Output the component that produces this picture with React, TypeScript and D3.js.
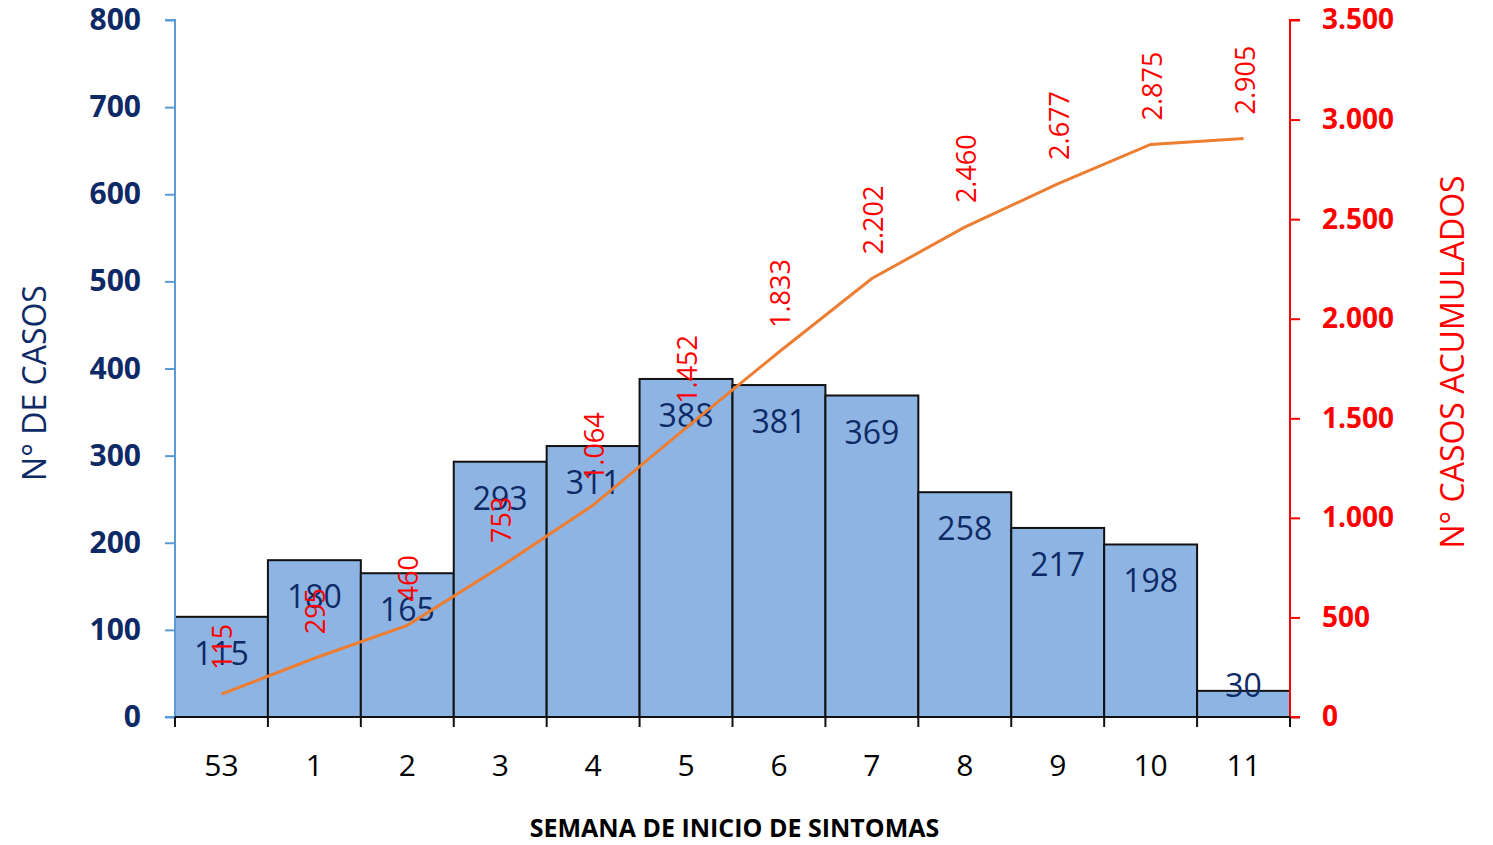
import React, { useRef, useEffect } from "react";
import * as d3 from "d3";

const weeks = ["53", "1", "2", "3", "4", "5", "6", "7", "8", "9", "10", "11"];
const cases = [115, 180, 165, 293, 311, 388, 381, 369, 258, 217, 198, 30];
const cumulative = [115, 295, 460, 753, 1064, 1452, 1833, 2202, 2460, 2677, 2875, 2905];
const leftTicks = [0, 100, 200, 300, 400, 500, 600, 700, 800];
const rightTicks = [0, 500, 1000, 1500, 2000, 2500, 3000, 3500];

const W = 1493;
const H = 845;
const FONT = "'Open Sans', 'Noto Sans', sans-serif";

// thousands with a dot, as in the original
const fmt = (d: number) => d3.format(",")(d).replace(/,/g, ".");

export default function App() {
  const svgRef = useRef<SVGSVGElement | null>(null);

  useEffect(() => {
    const svg = d3.select(svgRef.current);
    svg.selectAll("*").remove();

    const left = 175;
    const right = 1290;
    const top = 20;
    const bottom = 717;

    const x = d3.scaleBand().domain(weeks).range([left, right]).padding(0);
    const yL = d3.scaleLinear().domain([0, 800]).range([bottom, top]);
    const yR = d3.scaleLinear().domain([0, 3500]).range([bottom, top]);

    // bars
    svg
      .append("g")
      .selectAll("rect")
      .data(cases)
      .join("rect")
      .attr("x", (_, i) => x(weeks[i])!)
      .attr("y", (d) => yL(d))
      .attr("width", x.bandwidth())
      .attr("height", (d) => bottom - yL(d))
      .attr("fill", "#8DB4E2")
      .attr("stroke", "#111")
      .attr("stroke-width", 2);

    // bar labels (inside end, pushed up when the bar is too short)
    svg
      .append("g")
      .selectAll("text")
      .data(cases)
      .join("text")
      .attr("x", (_, i) => x(weeks[i])! + x.bandwidth() / 2)
      .attr("y", (d) => Math.min(yL(d) + 48, bottom - 20))
      .attr("text-anchor", "middle")
      .style("font-family", FONT)
      .style("font-size", "32px")
      .attr("fill", "#0E2A66")
      .text((d) => d);

    // cumulative line
    const line = d3
      .line<number>()
      .x((_, i) => x(weeks[i])! + x.bandwidth() / 2)
      .y((d) => yR(d));
    svg
      .append("path")
      .datum(cumulative)
      .attr("fill", "none")
      .attr("stroke", "#ED7D31")
      .attr("stroke-width", 3)
      .attr("d", line);

    // cumulative labels (rotated)
    svg
      .append("g")
      .selectAll("text")
      .data(cumulative)
      .join("text")
      .attr("transform", (d, i) => {
        const cx = x(weeks[i])! + x.bandwidth() / 2;
        return `translate(${cx + 11},${yR(d) - 24}) rotate(-90)`;
      })
      .attr("text-anchor", "start")
      .style("font-family", FONT)
      .style("font-size", "27px")
      .attr("fill", "#FF0000")
      .text((d) => fmt(d));

    // left axis
    const gL = svg
      .append("g")
      .attr("transform", `translate(${left},0)`)
      .call(d3.axisLeft(yL).tickValues(leftTicks).tickSize(10).tickPadding(24));
    gL.selectAll("path, line").attr("stroke", "#5B9BD5").attr("stroke-width", 2);
    gL.select(".domain").attr("d", `M-10,${top}H0V${bottom}H-10`);
    gL.selectAll("text")
      .style("font-family", FONT)
      .style("font-size", "30px")
      .style("font-weight", "bold")
      .attr("fill", "#0E2A66");

    // right axis
    const gR = svg
      .append("g")
      .attr("transform", `translate(${right},0)`)
      .call(d3.axisRight(yR).tickValues(rightTicks).tickSize(10).tickPadding(22).tickFormat((d) => fmt(+d)));
    gR.selectAll("path, line").attr("stroke", "#FF0000").attr("stroke-width", 2);
    gR.select(".domain").attr("d", `M10,${top}H0V${bottom}H10`);
    gR.selectAll("text")
      .style("font-family", FONT)
      .style("font-size", "28px")
      .style("font-weight", "bold")
      .attr("fill", "#FF0000");

    // bottom axis with ticks on band boundaries
    const gB = svg.append("g").attr("transform", `translate(0,${bottom})`);
    gB.append("line")
      .attr("x1", left)
      .attr("x2", right)
      .attr("stroke", "#111")
      .attr("stroke-width", 2);
    const edges = weeks.map((w) => x(w)!).concat([right]);
    gB.selectAll("line.tick")
      .data(edges)
      .join("line")
      .attr("class", "tick")
      .attr("x1", (d) => d)
      .attr("x2", (d) => d)
      .attr("y1", 0)
      .attr("y2", 10)
      .attr("stroke", "#111")
      .attr("stroke-width", 2);
    gB.selectAll("text")
      .data(weeks)
      .join("text")
      .attr("x", (d) => x(d)! + x.bandwidth() / 2)
      .attr("y", 59)
      .attr("text-anchor", "middle")
      .style("font-family", FONT)
      .style("font-size", "30px")
      .attr("fill", "#000")
      .text((d) => d);

    // axis titles
    svg
      .append("text")
      .attr("x", (left + right) / 2 + 2)
      .attr("y", 837)
      .attr("text-anchor", "middle")
      .style("font-family", FONT)
      .style("font-size", "25px")
      .style("font-weight", "bold")
      .attr("fill", "#000")
      .text("SEMANA DE INICIO DE SINTOMAS");

    svg
      .append("text")
      .attr("transform", `translate(46,383) rotate(-90)`)
      .attr("text-anchor", "middle")
      .style("font-family", FONT)
      .style("font-size", "32px")
      .attr("fill", "#0E2A66")
      .text("N° DE CASOS");

    svg
      .append("text")
      .attr("transform", `translate(1464,362) rotate(-90)`)
      .attr("text-anchor", "middle")
      .style("font-family", FONT)
      .style("font-size", "32px")
      .attr("fill", "#FF0000")
      .text("N° CASOS ACUMULADOS");
  }, []);

  return (
    <svg
      ref={svgRef}
      width={W}
      height={H}
      style={{ position: "absolute", left: 0, top: 0, background: "#fff" }}
    ></svg>
  );
}
